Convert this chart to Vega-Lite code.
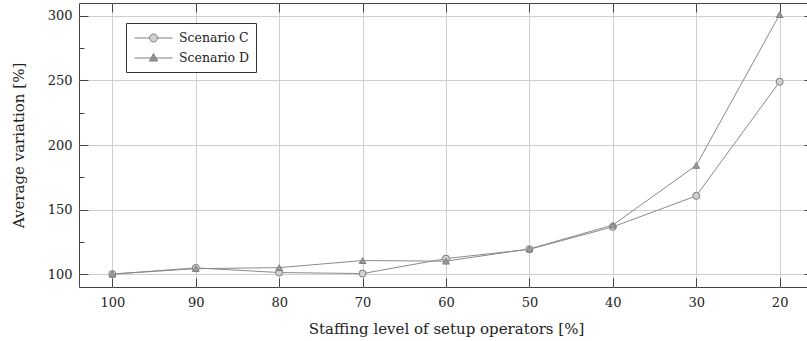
{
  "$schema": "https://vega.github.io/schema/vega-lite/v6.json",
  "width": 734,
  "height": 284,
  "autosize": "none",
  "padding": {"left": 79, "top": 3, "right": 0, "bottom": 54},
  "background": "white",
  "config": {
    "view": {"stroke": "#444", "strokeWidth": 1},
    "font": "DejaVu Serif",
    "axis": {"labelFont": "DejaVu Serif", "titleFont": "DejaVu Serif", "labelColor": "#222", "titleColor": "#222", "tickColor": "#444", "tickWidth": 1, "domain": false, "grid": false, "titleFontWeight": "normal"},
    "legend": {"symbolStrokeColor": "#7f7f7f", "symbolStrokeWidth": 1, "symbolOpacity": 1}
  },
  "data": {
    "values": [
      {"level": 100, "value": 100, "series": "Scenario C"},
      {"level": 90, "value": 104.8, "series": "Scenario C"},
      {"level": 80, "value": 101.2, "series": "Scenario C"},
      {"level": 70, "value": 100.4, "series": "Scenario C"},
      {"level": 60, "value": 112, "series": "Scenario C"},
      {"level": 50, "value": 119.2, "series": "Scenario C"},
      {"level": 40, "value": 136.6, "series": "Scenario C"},
      {"level": 30, "value": 160.6, "series": "Scenario C"},
      {"level": 20, "value": 249, "series": "Scenario C"},
      {"level": 100, "value": 100, "series": "Scenario D"},
      {"level": 90, "value": 104.2, "series": "Scenario D"},
      {"level": 80, "value": 105, "series": "Scenario D"},
      {"level": 70, "value": 110.5, "series": "Scenario D"},
      {"level": 60, "value": 110, "series": "Scenario D"},
      {"level": 50, "value": 119.5, "series": "Scenario D"},
      {"level": 40, "value": 138, "series": "Scenario D"},
      {"level": 30, "value": 184.2, "series": "Scenario D"},
      {"level": 20, "value": 301, "series": "Scenario D"}
    ]
  },
  "resolve": {"axis": {"x": "independent", "y": "independent"}},
  "layer": [
    {
      "mark": {"type": "line", "color": "#8a8a8a", "strokeWidth": 1},
      "encoding": {
        "x": {"field": "level", "type": "quantitative",
          "scale": {"domain": [16, 104], "reverse": true, "nice": false, "zero": false},
          "axis": {"orient": "bottom", "values": [100, 90, 80, 70, 60, 50, 40, 30, 20], "grid": true, "gridColor": "#cfcfcf", "ticks": false, "labelPadding": 9, "labelFontSize": 13, "title": "Staffing level of setup operators [%]", "titleFontSize": 15, "titlePadding": 12}},
        "y": {"field": "value", "type": "quantitative",
          "scale": {"domain": [90, 310], "nice": false, "zero": false},
          "axis": {"orient": "left", "values": [100, 150, 200, 250, 300], "grid": true, "gridColor": "#cfcfcf", "ticks": false, "labelPadding": 7, "labelFontSize": 13, "title": "Average variation [%]", "titleFontSize": 15, "titlePadding": 21}},
        "detail": {"field": "series"}
      }
    },
    {
      "transform": [{"filter": "datum.series === 'Scenario C'"}],
      "mark": {"type": "point", "filled": true, "shape": "circle", "fill": "#d0d0d0", "stroke": "#7f7f7f", "strokeWidth": 1, "opacity": 1, "size": 50},
      "encoding": {
        "x": {"field": "level", "type": "quantitative", "axis": null},
        "y": {"field": "value", "type": "quantitative", "axis": null}
      }
    },
    {
      "transform": [{"filter": "datum.series === 'Scenario D'"}],
      "mark": {"type": "point", "filled": true, "shape": "triangle-up", "fill": "#9a9a9a", "stroke": "#7f7f7f", "strokeWidth": 1, "opacity": 1, "size": 45},
      "encoding": {
        "x": {"field": "level", "type": "quantitative", "axis": null},
        "y": {"field": "value", "type": "quantitative", "axis": null}
      }
    },
    {
      "mark": {"type": "point", "filled": true, "stroke": "#7f7f7f", "strokeWidth": 1, "size": 0},
      "encoding": {
        "x": {"field": "level", "type": "quantitative", "axis": null},
        "y": {"field": "value", "type": "quantitative", "axis": null},
        "shape": {"field": "series", "type": "nominal",
          "scale": {"domain": ["Scenario C", "Scenario D"], "range": ["M-0.87,0H1.14M2.2,0H4.2M2.2,0A0.53,0.53,0,1,1,1.14,0A0.53,0.53,0,1,1,2.2,0Z", "M-0.87,0H4.2M1.67,-0.6L2.22,0.4L1.12,0.4Z"]},
          "legend": {
            "orient": "none", "legendX": 47, "legendY": 20, "title": null,
            "padding": 7, "strokeColor": "#333", "fillColor": "white",
            "rowPadding": 5, "symbolSize": 225, "labelOffset": 30,
            "symbolOpacity": 1, "symbolStrokeColor": "#7f7f7f", "symbolStrokeWidth": 1,
            "labelFontSize": 12.5, "labelFont": "DejaVu Serif", "labelColor": "#222",
            "encode": {"symbols": {"update": {"stroke": {"value": "#7f7f7f"}, "strokeWidth": {"value": 1}, "strokeOpacity": {"value": 1}}}}
          }},
        "fill": {"field": "series", "type": "nominal",
          "scale": {"domain": ["Scenario C", "Scenario D"], "range": ["#d0d0d0", "#9a9a9a"]},
          "legend": {
            "orient": "none", "legendX": 47, "legendY": 20, "title": null,
            "padding": 7, "strokeColor": "#333", "fillColor": "white",
            "rowPadding": 5, "symbolSize": 225, "labelOffset": 30,
            "symbolOpacity": 1, "symbolStrokeColor": "#7f7f7f", "symbolStrokeWidth": 1,
            "labelFontSize": 12.5, "labelFont": "DejaVu Serif", "labelColor": "#222",
            "encode": {"symbols": {"update": {"stroke": {"value": "#7f7f7f"}, "strokeWidth": {"value": 1}, "strokeOpacity": {"value": 1}}}}
          }}
      }
    },
    {
      "mark": {"type": "point", "opacity": 0},
      "encoding": {
        "x": {"field": "level", "type": "quantitative",
          "axis": {"orient": "top", "values": [100, 90, 80, 70, 60, 50, 40, 30, 20], "labels": false, "ticks": true, "tickSize": 9, "offset": -9, "title": null}},
        "y": {"field": "value", "type": "quantitative",
          "axis": {"orient": "right", "values": [100, 150, 200, 250, 300], "labels": false, "ticks": true, "tickSize": 9, "offset": -9, "title": null}}
      }
    },
    {
      "mark": {"type": "point", "opacity": 0},
      "encoding": {
        "x": {"field": "level", "type": "quantitative",
          "axis": {"orient": "bottom", "values": [100, 90, 80, 70, 60, 50, 40, 30, 20], "labels": false, "ticks": true, "tickSize": 9, "offset": -9, "title": null}},
        "y": {"field": "value", "type": "quantitative",
          "axis": {"orient": "left", "values": [100, 150, 200, 250, 300], "labels": false, "ticks": true, "tickSize": 9, "offset": -9, "title": null}}
      }
    },
    {
      "mark": {"type": "point", "opacity": 0},
      "encoding": {
        "x": {"field": "level", "type": "quantitative", "axis": null},
        "y": {"field": "value", "type": "quantitative",
          "axis": {"orient": "left", "values": [125, 175, 225, 275], "labels": false, "ticks": true, "tickSize": 5, "offset": -5, "title": null}}
      }
    },
    {
      "mark": {"type": "point", "opacity": 0},
      "encoding": {
        "x": {"field": "level", "type": "quantitative", "axis": null},
        "y": {"field": "value", "type": "quantitative",
          "axis": {"orient": "right", "values": [125, 175, 225, 275], "labels": false, "ticks": true, "tickSize": 5, "offset": -5, "title": null}}
      }
    }
  ]
}
